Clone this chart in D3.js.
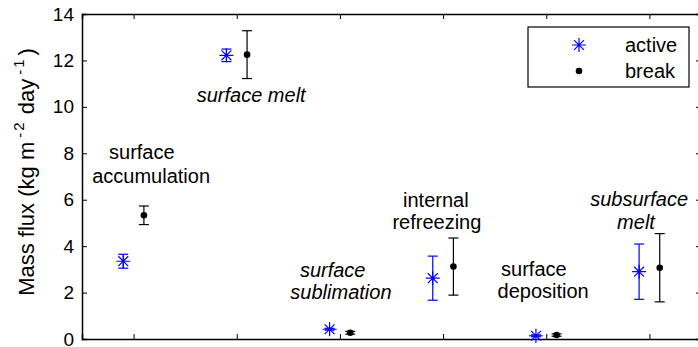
<!DOCTYPE html>
<html>
<head>
<meta charset="utf-8">
<script src="https://cdn.jsdelivr.net/npm/d3@7"></script>
<style>
  body { margin: 0; background: #fff; }
  svg { display: block; font-family: "Liberation Sans", Arial, sans-serif; }
</style>
</head>
<body>
<div id="chart"></div>
<script>
var svgWidth = 698;
var svgHeight = 347;

// one group per process, two regimes each
var categories = ["surface accumulation", "surface melt", "surface sublimation",
                  "internal refreezing", "surface deposition", "subsurface melt"];
var activeMean = [3.35, 12.22, 0.42, 2.62, 0.14, 2.90];
var activeErr  = [0.30, 0.27, 0.04, 0.95, 0.04, 1.19];
var breakMean  = [5.33, 12.25, 0.27, 3.12, 0.17, 3.07];
var breakErr   = [0.40, 1.03, 0.06, 1.23, 0.05, 1.47];
var yTicks = [0, 2, 4, 6, 8, 10, 12, 14];

// annotation lines: text, x and baseline y in data units
var labelLines = [
    {text: "surface",      x: 1.08, y: 7.75, italic: false},
    {text: "accumulation", x: 1.17, y: 6.74, italic: false},
    {text: "surface melt", x: 2.14, y: 10.22, italic: true},
    {text: "surface",      x: 2.93, y: 2.68, italic: true},
    {text: "sublimation",  x: 3.01, y: 1.71, italic: true},
    {text: "internal",     x: 3.93, y: 5.70, italic: false},
    {text: "refreezing",   x: 3.94, y: 4.73, italic: false},
    {text: "surface",      x: 4.88, y: 2.71, italic: false},
    {text: "deposition",   x: 4.97, y: 1.75, italic: false},
    {text: "subsurface",   x: 5.90, y: 5.73, italic: true},
    {text: "melt",         x: 5.87, y: 4.73, italic: true}
];

var margin = {top: 14, left: 82, bottom: 8, right: -3};
var plotW = svgWidth - margin.left - margin.right;
var plotH = svgHeight - margin.top - margin.bottom;

var svg = d3.select("#chart").append("svg")
    .attr("width", svgWidth)
    .attr("height", svgHeight);

var g = svg.append("g")
    .attr("transform", `translate(${margin.left}, ${margin.top})`);

var xScale = d3.scaleLinear().domain([0.5, 6.5]).range([0, plotW]);
var yScale = d3.scaleLinear().domain([0, 14]).range([plotH, 0]);

var offset = 0.1;   // horizontal shift of the two regimes
var capHalf = 5;

// axes: matlab style box, ticks inward
var xTickVals = d3.range(1, categories.length + 1);
g.append("g")
    .attr("transform", `translate(0, ${plotH})`)
    .call(d3.axisBottom(xScale).tickValues(xTickVals).tickSize(-5).tickFormat(""));
g.append("g")
    .call(d3.axisTop(xScale).tickValues(xTickVals).tickSize(-5).tickFormat(""));
var yAxis = g.append("g")
    .call(d3.axisLeft(yScale).tickValues(yTicks).tickSize(-5).tickPadding(8));
g.append("g")
    .attr("transform", `translate(${plotW}, 0)`)
    .call(d3.axisRight(yScale).tickValues(yTicks).tickSize(-5).tickFormat(""));

g.selectAll(".domain").attr("stroke", "#000").attr("stroke-width", 1.5);
g.selectAll(".tick line").attr("stroke", "#000");
yAxis.selectAll("text")
    .attr("font-size", "19px")
    .attr("fill", "#000")
    .attr("font-family", "Liberation Sans, Arial, sans-serif");

// y label with superscripts
var ylab = svg.append("text")
    .attr("transform", `translate(34, 172) rotate(-90)`)
    .attr("text-anchor", "middle")
    .attr("font-size", "22px")
    .attr("fill", "#000");
ylab.append("tspan").text("Mass flux (kg m");
ylab.append("tspan").attr("font-size", "15px").attr("dy", -9).attr("dx", 4).text("-");
ylab.append("tspan").attr("font-size", "15px").attr("dy", -1).attr("dx", 2).text("2");
ylab.append("tspan").attr("dy", 10).attr("dx", 2).text(" day");
ylab.append("tspan").attr("font-size", "15px").attr("dy", -9).attr("dx", 4).text("-");
ylab.append("tspan").attr("font-size", "15px").attr("dy", -1).attr("dx", 2).text("1");
ylab.append("tspan").attr("dy", 10).attr("dx", 4).text(")");

// error bars
function errorBars(means, errs, dx, color) {
    var eg = g.append("g").attr("stroke", color).attr("stroke-width", 1.2).attr("fill", "none");
    means.forEach(function(m, i) {
        var cx = xScale(i + 1 + dx);
        var lo = yScale(m - errs[i]);
        var hi = yScale(m + errs[i]);
        eg.append("line").attr("x1", cx).attr("x2", cx).attr("y1", lo).attr("y2", hi);
        eg.append("line").attr("x1", cx - capHalf).attr("x2", cx + capHalf).attr("y1", lo).attr("y2", lo);
        eg.append("line").attr("x1", cx - capHalf).attr("x2", cx + capHalf).attr("y1", hi).attr("y2", hi);
    });
}
errorBars(activeMean, activeErr, -offset, "#0000ff");
errorBars(breakMean, breakErr, offset, "#000");

// asterisk marker path
function asterisk(r) {
    var d = r * Math.SQRT1_2;
    return `M${-r},0L${r},0M0,${-r}L0,${r}M${-d},${-d}L${d},${d}M${-d},${d}L${d},${-d}`;
}

g.selectAll(".active").data(activeMean).enter().append("path")
    .attr("class", "active")
    .attr("transform", (d, i) => `translate(${xScale(i + 1 - offset)}, ${yScale(d)})`)
    .attr("d", asterisk(7))
    .attr("stroke", "#0000ff")
    .attr("stroke-width", 1.2)
    .attr("fill", "none");

g.selectAll(".brk").data(breakMean).enter().append("circle")
    .attr("class", "brk")
    .attr("cx", (d, i) => xScale(i + 1 + offset))
    .attr("cy", d => yScale(d))
    .attr("r", 3.3)
    .attr("fill", "#000");

// annotations
g.selectAll(".lbl").data(labelLines).enter().append("text")
    .attr("class", "lbl")
    .attr("x", d => xScale(d.x))
    .attr("y", d => yScale(d.y))
    .attr("text-anchor", "middle")
    .attr("font-size", "20px")
    .attr("font-style", d => d.italic ? "italic" : "normal")
    .attr("fill", "#000")
    .text(d => d.text);

// legend
var leg = svg.append("g").attr("transform", "translate(528, 27)");
leg.append("rect")
    .attr("width", 161).attr("height", 60)
    .attr("fill", "#fff").attr("stroke", "#000").attr("stroke-width", 1.2);
leg.append("path")
    .attr("transform", "translate(51, 18)")
    .attr("d", asterisk(7))
    .attr("stroke", "#0000ff").attr("stroke-width", 1.2).attr("fill", "none");
leg.append("circle").attr("cx", 51).attr("cy", 44).attr("r", 3.3).attr("fill", "#000");
leg.append("text").attr("x", 97).attr("y", 25).attr("font-size", "20px").text("active");
leg.append("text").attr("x", 97).attr("y", 51).attr("font-size", "20px").text("break");
</script>
</body>
</html>
